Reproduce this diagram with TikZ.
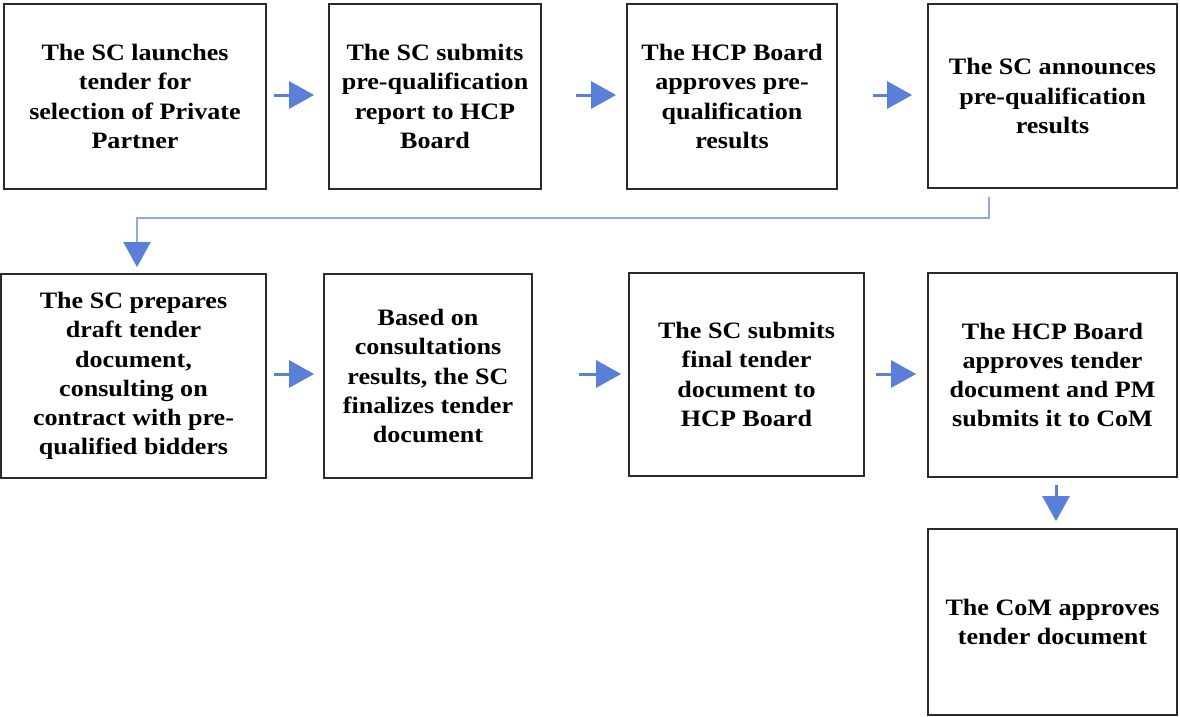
\documentclass[tikz,border=0pt]{standalone}
\usepackage{fontspec}
\setmainfont[FakeStretch=1.11]{Liberation Serif}
\usetikzlibrary{arrows.meta}
\definecolor{arrblue}{HTML}{5A7FD8}
\definecolor{lineblue}{HTML}{8EA9E0}
\definecolor{boxline}{HTML}{2A2A2A}
\tikzset{
  box/.style={draw=boxline, line width=1.8pt, align=center, inner sep=0pt,
    font=\fontsize{23.5}{29.3}\selectfont\bfseries},
  arr/.style={draw=arrblue, line width=3pt,
    -{Triangle[width=27pt,length=25pt,color=arrblue]}},
  conn/.style={draw=lineblue, line width=2pt,
    -{Triangle[width=27pt,length=25pt,color=arrblue]}},
}
\begin{document}
\begin{tikzpicture}[x=1pt,y=-1pt]
\useasboundingbox (0,0) rectangle (1180,717);
\node[box, minimum width=262, minimum height=185] (b1) at (135,96.5)
  {The SC launches\\tender for\\selection of Private\\Partner};
\node[box, minimum width=212, minimum height=185] (b2) at (435,96.5)
  {The SC submits\\pre-qualification\\report to HCP\\Board};
\node[box, minimum width=210, minimum height=185] (b3) at (732,96.5)
  {The HCP Board\\approves pre-\\qualification\\results};
\node[box, minimum width=249, minimum height=184] (b4) at (1052.5,96)
  {The SC announces\\pre-qualification\\results};
\node[box, minimum width=265, minimum height=204] (b5) at (133.5,376)
  {The SC prepares\\draft tender\\document,\\consulting on\\contract with pre-\\qualified bidders};
\node[box, minimum width=208, minimum height=204] (b6) at (428,376)
  {Based on\\consultations\\results, the SC\\finalizes tender\\document};
\node[box, minimum width=235, minimum height=203] (b7) at (746.5,374.5)
  {The SC submits\\final tender\\document to\\HCP Board};
\node[box, minimum width=249, minimum height=204] (b8) at (1052.5,375)
  {The HCP Board\\approves tender\\document and PM\\submits it to CoM};
\node[box, minimum width=249, minimum height=186] (b9) at (1052.5,622)
  {The CoM approves\\tender document};

\draw[arr, shorten <=7pt, shorten >=14pt] (b1.east|-0,95) -- (b2.west|-0,95);
\draw[arr, shorten <=34pt, shorten >=10pt] (b2.east|-0,95) -- (b3.west|-0,95);
\draw[arr, shorten <=35pt, shorten >=15pt] (b3.east|-0,95) -- (b4.west|-0,95);
\draw[arr, shorten <=7pt, shorten >=9pt] (b5.east|-0,374) -- (b6.west|-0,374);
\draw[arr, shorten <=46pt, shorten >=7pt] (b6.east|-0,374) -- (b7.west|-0,374);
\draw[arr, shorten <=11pt, shorten >=11pt] (b7.east|-0,374) -- (b8.west|-0,374);
\draw[arr, shorten <=7pt, shorten >=7pt] (b8.south-|1056,0) -- (b9.north-|1056,0);
\coordinate (c1) at (989,218);
\coordinate (c2) at (137,218);
\draw[conn, shorten <=8pt, shorten >=6pt] (b4.south-|c1) -- (c1) -- (c2) -- (b5.north-|c2);
\end{tikzpicture}
\end{document}
